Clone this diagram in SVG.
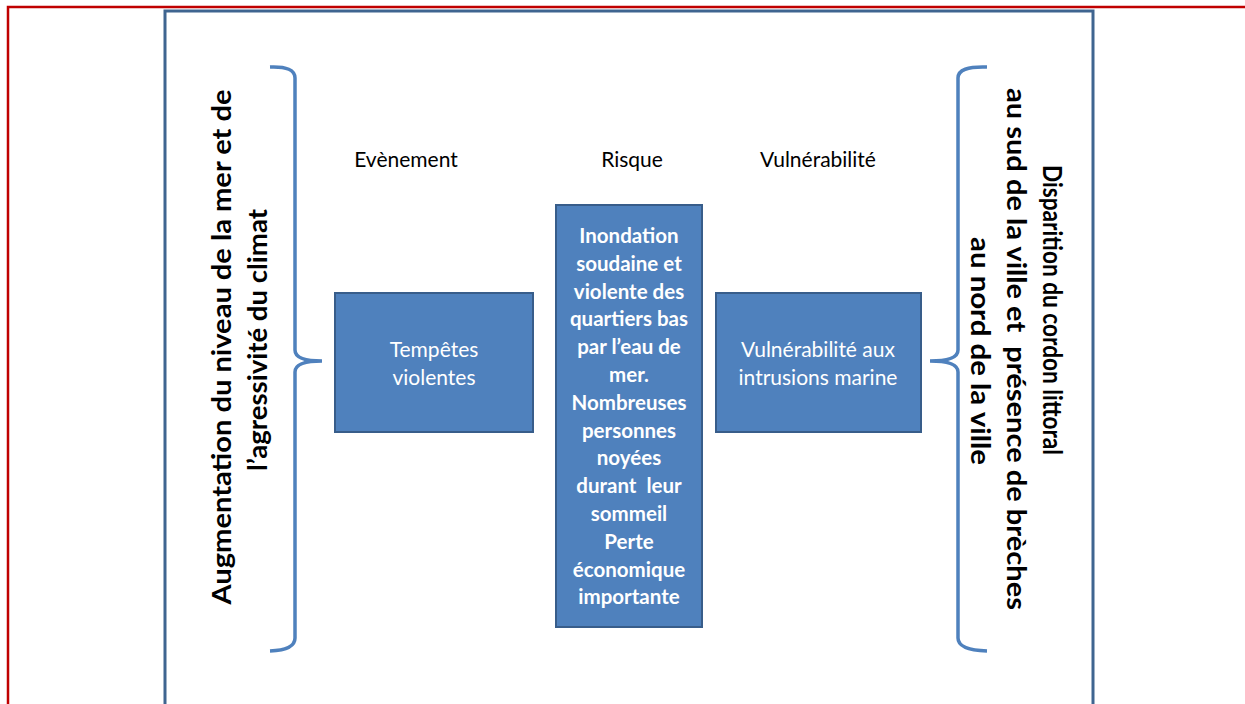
<svg xmlns="http://www.w3.org/2000/svg" width="1245" height="704" viewBox="0 0 1245 704">
<style>
.box{fill:#4f81bd;stroke:#385d8a;stroke-width:2}
.brace{fill:none;stroke:#4f81bd;stroke-width:3.5;stroke-linecap:butt}
.hdr{font-family:Lato,"Liberation Sans",sans-serif;font-size:21px;fill:#000;text-anchor:middle}
.reg{font-family:Lato,"Liberation Sans",sans-serif;font-size:21px;fill:#ffffff;text-anchor:middle}
.bld{font-family:Lato,"Liberation Sans",sans-serif;font-size:20.5px;font-weight:bold;fill:#ffffff;text-anchor:middle}
.vt{font-family:Lato,"Liberation Sans",sans-serif;font-size:27px;font-weight:bold;fill:#000;text-anchor:middle}
</style>
<rect width="1245" height="704" fill="#ffffff"/>
<g id="frame">
<path d="M8,710 L8,7 L1250,7" fill="none" stroke="#c00000" stroke-width="2.5"/>
<rect x="165" y="11" width="928" height="710" fill="none" stroke="#3f6590" stroke-width="3"/>
</g>
<g id="headers">
<text class="hdr" x="406" y="167">Evènement</text>
<text class="hdr" x="632" y="167">Risque</text>
<text class="hdr" x="818" y="167">Vulnérabilité</text>
</g>
<g id="left-label">
<text class="vt" transform="translate(231,347) rotate(-90)" textLength="515" lengthAdjust="spacingAndGlyphs">Augmentation du niveau de la mer et de</text>
<text class="vt" transform="translate(267,340) rotate(-90)" textLength="262" lengthAdjust="spacingAndGlyphs">l’agressivité du climat</text>
</g>
<g id="right-label">
<text class="vt" transform="translate(1043,310) rotate(90)" textLength="290" lengthAdjust="spacingAndGlyphs">Disparition du cordon littoral</text>
<text class="vt" transform="translate(1007,349) rotate(90)" textLength="522" lengthAdjust="spacingAndGlyphs" xml:space="preserve">au sud de la ville et  présence de brèches</text>
<text class="vt" transform="translate(971,351) rotate(90)" textLength="228" lengthAdjust="spacingAndGlyphs">au nord de la ville</text>
</g>
<g id="node-tempetes">
<rect class="box" x="335" y="293" width="198" height="139"/>
<text class="reg" x="434" y="357">Tempêtes</text>
<text class="reg" x="434" y="385">violentes</text>
</g>
<g id="node-risque">
<rect class="box" x="556" y="205" width="146" height="422"/>
<text class="bld" x="629" y="243">Inondation<tspan x="629" dy="27.8">soudaine et</tspan><tspan x="629" dy="27.8">violente des</tspan><tspan x="629" dy="27.8">quartiers bas</tspan><tspan x="629" dy="27.8">par l’eau de</tspan><tspan x="629" dy="27.8">mer.</tspan><tspan x="629" dy="27.8">Nombreuses</tspan><tspan x="629" dy="27.8">personnes</tspan><tspan x="629" dy="27.8">noyées</tspan><tspan x="629" dy="27.8" xml:space="preserve">durant  leur</tspan><tspan x="629" dy="27.8">sommeil</tspan><tspan x="629" dy="27.8">Perte</tspan><tspan x="629" dy="27.8">économique</tspan><tspan x="629" dy="27.8">importante</tspan></text>
</g>
<g id="node-vulnerabilite">
<rect class="box" x="716" y="293" width="205" height="139"/>
<text class="reg" x="818" y="357">Vulnérabilité aux</text>
<text class="reg" x="818" y="385">intrusions marine</text>
</g>
<g id="connectors">
<path class="brace" d="M270,67 Q295,66 295,78 L295,350 Q295,361 322,361 Q295,361 295,372 L295,638 Q295,650 270,651"/>
<path class="brace" d="M987,67 Q958,66 958,78 L958,350 Q958,361 930,361 Q958,361 958,372 L958,638 Q958,650 987,651"/>
</g>
</svg>
